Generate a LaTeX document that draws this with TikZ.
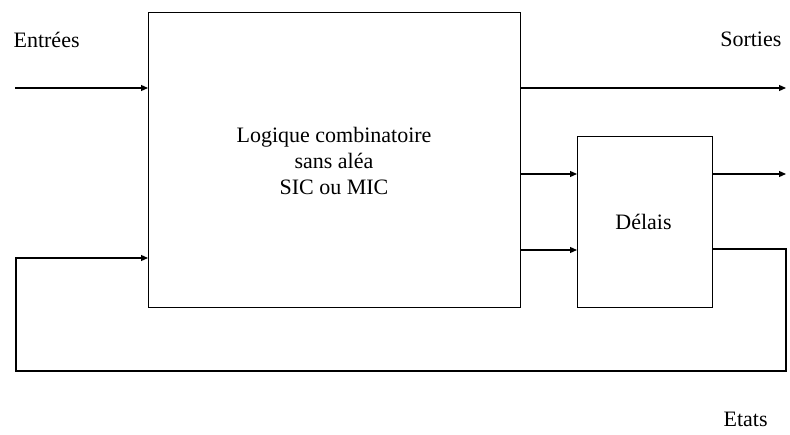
\documentclass[tikz,border=0pt]{standalone}
\usepackage{fontspec}
\setmainfont{Liberation Serif}
\usetikzlibrary{arrows.meta}
\begin{document}
\begin{tikzpicture}[x=1pt,y=-1pt,
  line width=1.2pt,
  box/.style={draw,line width=1.2pt,inner sep=0pt,anchor=north west},
  arr/.style={-{Triangle[length=7pt,width=6pt]}},
  lbl/.style={font=\fontsize{22}{26}\selectfont,inner sep=0pt}]
\useasboundingbox (0,0) rectangle (790,435);
% boxes
\node[box,minimum width=372pt,minimum height=295pt] (logic) at (148,12) {};
\node[lbl,align=center,anchor=base] (ltext) at (334,195) {Logique combinatoire\\sans aléa\\SIC ou MIC};
\node[box,minimum width=135pt,minimum height=171pt] (delay) at (577,136) {};
\node[lbl,anchor=base] (dtext) at (643.5,230) {Délais};
% coordinates
\coordinate (in1) at (15,88);
\coordinate (out1) at (786,88);
\coordinate (out2) at (786,174);
\coordinate (r1) at (786,249);
\coordinate (r2) at (786,371);
\coordinate (l1) at (16,371);
\coordinate (l2) at (16,258);
% connectors
\draw[arr] (in1) -- (logic.west |- in1);
\draw[arr] (logic.east |- out1) -- (out1);
\draw[arr] (logic.east |- 0,174) -- (delay.west |- 0,174);
\draw[arr] (logic.east |- 0,250) -- (delay.west |- 0,250);
\draw[arr] (delay.east |- out2) -- (out2);
\draw[arr] (delay.east |- r1) -- (r1) -- (r2) -- (l1) -- (l2) -- (logic.west |- l2);
% labels
\node[lbl,anchor=base west] (ent) at (13,48) {Entrées};
\node[lbl,anchor=base east] (sor) at (782,47) {Sorties};
\node[lbl,anchor=base west] (eta) at (723,427) {Etats};
\end{tikzpicture}
\end{document}
